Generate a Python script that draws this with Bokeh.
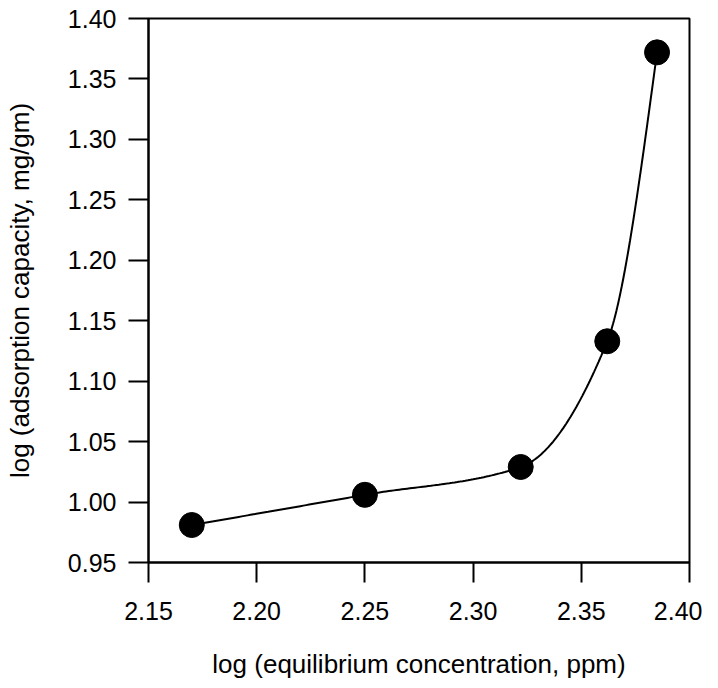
import numpy as np
from bokeh.plotting import figure
from bokeh.models import Range1d, FixedTicker
from bokeh.embed import file_html
from bokeh.resources import INLINE

# Data
log_conc = [2.170, 2.250, 2.322, 2.362, 2.385]
log_capacity = [0.981, 1.006, 1.029, 1.133, 1.372]

x_ticks = [2.15, 2.20, 2.25, 2.30, 2.35, 2.40]
y_ticks = [0.95, 1.00, 1.05, 1.10, 1.15, 1.20, 1.25, 1.30, 1.35, 1.40]

x_label = "log (equilibrium concentration, ppm)"
y_label = "log (adsorption capacity, mg/gm)"


def pchip(xs, ys, n=60):
    """Shape-preserving cubic (Fritsch-Carlson) curve through the data points."""
    xs = np.asarray(xs, float)
    ys = np.asarray(ys, float)
    h = np.diff(xs)
    d = np.diff(ys) / h
    m = np.zeros_like(xs)
    for k in range(1, len(xs) - 1):
        if d[k - 1] * d[k] > 0:
            w1 = 2 * h[k] + h[k - 1]
            w2 = h[k] + 2 * h[k - 1]
            m[k] = (w1 + w2) / (w1 / d[k - 1] + w2 / d[k])
    m[0] = ((2 * h[0] + h[1]) * d[0] - h[0] * d[1]) / (h[0] + h[1])
    if m[0] * d[0] <= 0:
        m[0] = 0
    m[-1] = ((2 * h[-1] + h[-2]) * d[-1] - h[-1] * d[-2]) / (h[-1] + h[-2])
    if m[-1] * d[-1] <= 0:
        m[-1] = 0
    cx, cy = [], []
    for k in range(len(xs) - 1):
        t = np.linspace(0, 1, n)
        h00 = 2 * t**3 - 3 * t**2 + 1
        h10 = t**3 - 2 * t**2 + t
        h01 = -2 * t**3 + 3 * t**2
        h11 = t**3 - t**2
        cx.extend(xs[k] + t * h[k])
        cy.extend(h00 * ys[k] + h10 * h[k] * m[k] + h01 * ys[k + 1] + h11 * h[k] * m[k + 1])
    return cx, cy


curve_x, curve_y = pchip(log_conc, log_capacity)

p = figure(width=702, height=686, output_backend="svg", toolbar_location=None,
           x_range=Range1d(2.15, 2.40), y_range=Range1d(0.95, 1.40),
           min_border_left=148, min_border_right=13, min_border_top=18, min_border_bottom=124)

p.line(curve_x, curve_y, line_color="black", line_width=2)
p.scatter(log_conc, log_capacity, size=25, marker="circle", fill_color="black", line_color="black")

p.grid.visible = False
p.outline_line_color = "black"
p.outline_line_width = 2
p.background_fill_color = "white"
p.border_fill_color = "white"

for ax in (p.xaxis[0], p.yaxis[0]):
    ax.axis_line_width = 2
    ax.axis_line_color = "black"
    ax.major_tick_line_width = 2
    ax.major_tick_line_color = "black"
    ax.major_tick_out = 20
    ax.major_tick_in = 0
    ax.minor_tick_line_color = None
    ax.major_label_text_font = "Liberation Sans"
    ax.major_label_text_font_size = "25px"
    ax.major_label_text_color = "black"
    ax.axis_label_text_font = "Liberation Sans"
    ax.axis_label_text_font_size = "26px"
    ax.axis_label_text_font_style = "normal"
    ax.axis_label_text_color = "black"

p.xaxis[0].ticker = FixedTicker(ticks=x_ticks)
p.yaxis[0].ticker = FixedTicker(ticks=y_ticks)
p.xaxis[0].major_label_overrides = {t: f"{t:.2f}" for t in x_ticks}
p.yaxis[0].major_label_overrides = {t: f"{t:.2f}" for t in y_ticks}
p.xaxis[0].axis_label = x_label
p.yaxis[0].axis_label = y_label
p.xaxis[0].major_label_standoff = 19
p.yaxis[0].major_label_standoff = 12
p.xaxis[0].axis_label_standoff = 26
p.yaxis[0].axis_label_standoff = 30

open("out.html", "w").write(file_html(p, INLINE))
